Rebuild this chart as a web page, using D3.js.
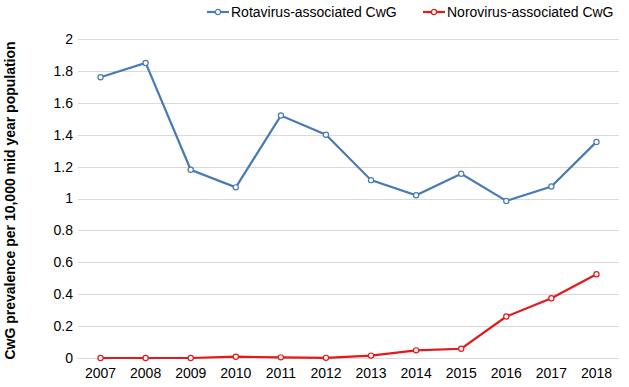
<!DOCTYPE html>
<html>
<head>
<meta charset="utf-8">
<script src="https://cdn.jsdelivr.net/npm/d3@7"></script>
<style>
  body { margin: 0; background: #fff; }
  text { font-family: "Liberation Sans", Arial, sans-serif; }
</style>
</head>
<body>
<svg id="chart" width="629" height="387"></svg>
<script>
const years = ["2007", "2008", "2009", "2010", "2011", "2012", "2013", "2014", "2015", "2016", "2017", "2018"];
const rotavirus = [1.76, 1.85, 1.18, 1.07, 1.52, 1.40, 1.115, 1.02, 1.155, 0.985, 1.075, 1.355];
const norovirus = [0, 0, 0, 0.008, 0.004, 0.001, 0.015, 0.048, 0.058, 0.26, 0.375, 0.525];
const yTicks = [0, 0.2, 0.4, 0.6, 0.8, 1, 1.2, 1.4, 1.6, 1.8, 2];

const series = [
    { name: "Rotavirus-associated CwG", values: rotavirus, color: "#4a7ab4" },
    { name: "Norovirus-associated CwG", values: norovirus, color: "#e3191c" }
];

const margin = { top: 39, right: 10, bottom: 29, left: 78 },
    width = 629,
    height = 387;

const svg = d3.select("#chart");

const x = d3.scaleBand().domain(years).range([margin.left, width - margin.right]);
const y = d3.scaleLinear().domain([0, 2]).range([height - margin.bottom, margin.top]);

// grid
svg.append("g")
    .selectAll("line")
    .data(yTicks)
    .join("line")
    .attr("x1", margin.left)
    .attr("x2", width - margin.right)
    .attr("y1", d => Math.round(y(d)) + 0.5)
    .attr("y2", d => Math.round(y(d)) + 0.5)
    .attr("stroke", "#d9d9d9")
    .attr("stroke-width", 1);

// y axis
const yAxis = svg.append("g")
    .attr("transform", `translate(${margin.left - 5},0)`)
    .call(d3.axisLeft(y).tickValues(yTicks).tickSize(0).tickPadding(0).tickFormat(d3.format("")));
yAxis.select(".domain").remove();
yAxis.selectAll("text").attr("font-size", "14px").attr("fill", "#000");

// x axis
const xAxis = svg.append("g")
    .attr("transform", `translate(0,${height - margin.bottom})`)
    .call(d3.axisBottom(x).tickSize(0).tickPadding(10));
xAxis.select(".domain").remove();
xAxis.selectAll("text").attr("font-size", "14px").attr("fill", "#000");

// axis title
svg.append("text")
    .attr("transform", `translate(15,${(margin.top + height - margin.bottom) / 2 + 2}) rotate(-90)`)
    .attr("text-anchor", "middle")
    .attr("font-size", "14px")
    .attr("font-weight", "bold")
    .text("CwG prevalence per 10,000 mid year population");

// lines
const line = d3.line()
    .x((d, i) => x(years[i]) + x.bandwidth() / 2)
    .y(d => y(d));

series.forEach(s => {
    svg.append("path")
        .datum(s.values)
        .attr("d", line)
        .attr("fill", "none")
        .attr("stroke", s.color)
        .attr("stroke-width", 2.2);

    svg.append("g")
        .selectAll("circle")
        .data(s.values)
        .join("circle")
        .attr("cx", (d, i) => x(years[i]) + x.bandwidth() / 2)
        .attr("cy", d => y(d))
        .attr("r", 2.6)
        .attr("fill", "#fff")
        .attr("stroke", s.color)
        .attr("stroke-width", 1.2);
});

// legend
const legendX = [207, 423];
const legend = svg.selectAll(".legend")
    .data(series)
    .join("g")
    .attr("class", "legend")
    .attr("transform", (d, i) => `translate(${legendX[i]},12)`);

legend.append("line")
    .attr("x1", 0).attr("x2", 22)
    .attr("stroke", d => d.color)
    .attr("stroke-width", 2.2);
legend.append("circle")
    .attr("cx", 11).attr("r", 2.6)
    .attr("fill", "#fff")
    .attr("stroke", d => d.color)
    .attr("stroke-width", 1.2);
legend.append("text")
    .attr("x", 24)
    .attr("y", 5)
    .attr("font-size", "14px")
    .text(d => d.name);
</script>
</body>
</html>
